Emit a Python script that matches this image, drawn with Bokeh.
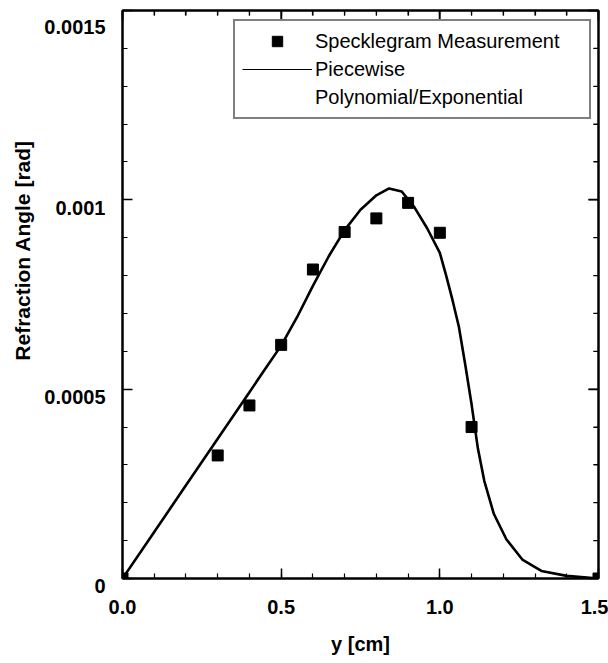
from bokeh.plotting import figure
from bokeh.models import (FixedTicker, Legend, LegendItem, Title, Range1d, LinearAxis)
from bokeh.embed import file_html
from bokeh.resources import INLINE

# ---- data ----
meas_y_cm = [0.0, 0.3, 0.4, 0.5, 0.6, 0.7, 0.8, 0.9, 1.0, 1.1, 1.5]
meas_angle = [0.0, 0.000325, 0.000457, 0.000617, 0.000816, 0.000915,
              0.000951, 0.000992, 0.000913, 0.000400, 0.0]

fit_y_cm = [0.0, 0.1, 0.2, 0.3, 0.4, 0.45, 0.5, 0.55, 0.6, 0.65, 0.7, 0.75,
            0.8, 0.84, 0.88, 0.92, 0.96, 1.0, 1.02, 1.04, 1.06, 1.08, 1.10,
            1.12, 1.14, 1.17, 1.21, 1.26, 1.32, 1.40, 1.5]
fit_angle = [0.0, 0.000123, 0.000246, 0.000369, 0.000492, 0.000554, 0.000615,
             0.000690, 0.000773, 0.000851, 0.000920, 0.000974, 0.001012,
             0.001030, 0.001022, 0.000980, 0.000925, 0.000860, 0.000800,
             0.000735, 0.000665, 0.000565, 0.000460, 0.000343, 0.000258,
             0.000171, 0.000103, 0.000050, 0.000020, 0.000007, 0.0]

x_range = (0.0, 1.5)
y_range = (0.0, 0.0015)
x_ticks = [0.0, 0.5, 1.0, 1.5]
x_tick_labels = ["0.0", "0.5", "1.0", "1.5"]
x_minor = [i / 10 for i in range(16)]
y_ticks = [0.0, 0.0005, 0.001, 0.0015]
y_tick_labels = ["0", "0.0005", "0.001", "0.0015"]
y_minor = [i / 10000 for i in range(16)]

FONT = "Liberation Sans"
FW, FH = 476, 568

p = figure(frame_width=FW, frame_height=FH,
           min_border_left=122, min_border_right=10, min_border_top=10, min_border_bottom=85,
           x_range=Range1d(*x_range), y_range=Range1d(*y_range),
           output_backend="svg", toolbar_location=None,
           x_axis_label="y [cm]")
p.grid.visible = False
p.outline_line_color = "black"
p.outline_line_width = 2
p.background_fill_color = "white"
p.border_fill_color = "white"

xt = FixedTicker(ticks=x_ticks, minor_ticks=x_minor)
yt = FixedTicker(ticks=y_ticks, minor_ticks=y_minor)


def style(ax, labels=True):
    ax.axis_line_color = "black"
    ax.axis_line_width = 2
    ax.major_tick_in = 10
    ax.major_tick_out = 0
    ax.minor_tick_in = 5
    ax.minor_tick_out = 0
    ax.major_tick_line_width = 1.5
    ax.minor_tick_line_width = 1.2
    ax.major_tick_line_color = "black"
    ax.minor_tick_line_color = "black"
    if labels:
        ax.major_label_text_font = FONT
        ax.major_label_text_font_size = "20px"
        ax.major_label_text_font_style = "bold"
        ax.major_label_text_color = "black"
    else:
        ax.major_label_text_font_size = "0px"
        ax.major_label_standoff = 0


xa = p.xaxis[0]
xa.ticker = xt
xa.major_label_overrides = dict(zip(x_ticks, x_tick_labels))
style(xa)
xa.major_label_standoff = 21
xa.axis_label_text_font = FONT
xa.axis_label_text_font_size = "20px"
xa.axis_label_text_font_style = "bold"
xa.axis_label_text_color = "black"
xa.axis_label_standoff = 16

ya = p.yaxis[0]
ya.ticker = yt
style(ya)
# an empty first line drops each label a little below its tick, as in the reference
ya.major_label_overrides = {v: "\n" + s for v, s in zip(y_ticks, y_tick_labels)}
ya.major_label_text_line_height = 0.7
ya.major_label_standoff = 17

top_ax = LinearAxis(ticker=xt)
style(top_ax, labels=False)
p.add_layout(top_ax, "above")
right_ax = LinearAxis(ticker=yt)
style(right_ax, labels=False)
p.add_layout(right_ax, "right")

# inward ticks along the top and right frame edges
dx = (x_range[1] - x_range[0]) / FW
dy = (y_range[1] - y_range[0]) / FH
t_min = [t for t in x_minor if t not in x_ticks]
r_min = [t for t in y_minor if t not in y_ticks]
p.segment(x0=x_ticks, x1=x_ticks, y0=[y_range[1]] * len(x_ticks),
          y1=[y_range[1] - 10 * dy] * len(x_ticks), line_color="black", line_width=1.5)
p.segment(x0=t_min, x1=t_min, y0=[y_range[1]] * len(t_min),
          y1=[y_range[1] - 5 * dy] * len(t_min), line_color="black", line_width=1.2)
p.segment(y0=y_ticks, y1=y_ticks, x0=[x_range[1]] * len(y_ticks),
          x1=[x_range[1] - 10 * dx] * len(y_ticks), line_color="black", line_width=1.5)
p.segment(y0=r_min, y1=r_min, x0=[x_range[1]] * len(r_min),
          x1=[x_range[1] - 5 * dx] * len(r_min), line_color="black", line_width=1.2)

ytitle = Title(text="Refraction  Angle  [rad]", align="right", offset=118,
               text_font=FONT, text_font_size="21px", text_font_style="bold",
               text_color="black", standoff=16)
p.add_layout(ytitle, "left")

# thin copy under the curve gives the legend its thin line sample
leg_line = p.line(fit_y_cm, fit_angle, line_color="black", line_width=1.2)
curve = p.line(fit_y_cm, fit_angle, line_color="black", line_width=2.6)
leg_blank = p.line(fit_y_cm, fit_angle, line_alpha=0)
pts = p.scatter(meas_y_cm, meas_angle, marker="square", size=11,
                fill_color="black", line_color="black")

legend = Legend(items=[
    LegendItem(label="Specklegram Measurement", renderers=[pts]),
    LegendItem(label="Piecewise", renderers=[leg_line]),
    LegendItem(label="Polynomial/Exponential", renderers=[leg_blank]),
], location=(111, 459))
legend.margin = 0
legend.padding = 7
legend.spacing = 2
legend.glyph_width = 70
legend.glyph_height = 26
legend.label_height = 26
legend.label_width = 267
legend.label_standoff = 3
legend.label_text_font = FONT
legend.label_text_font_size = "20px"
legend.label_text_color = "black"
legend.border_line_color = "black"
legend.border_line_width = 2
legend.background_fill_alpha = 1
p.add_layout(legend, "center")

open("out.html", "w").write(file_html(p, INLINE))
